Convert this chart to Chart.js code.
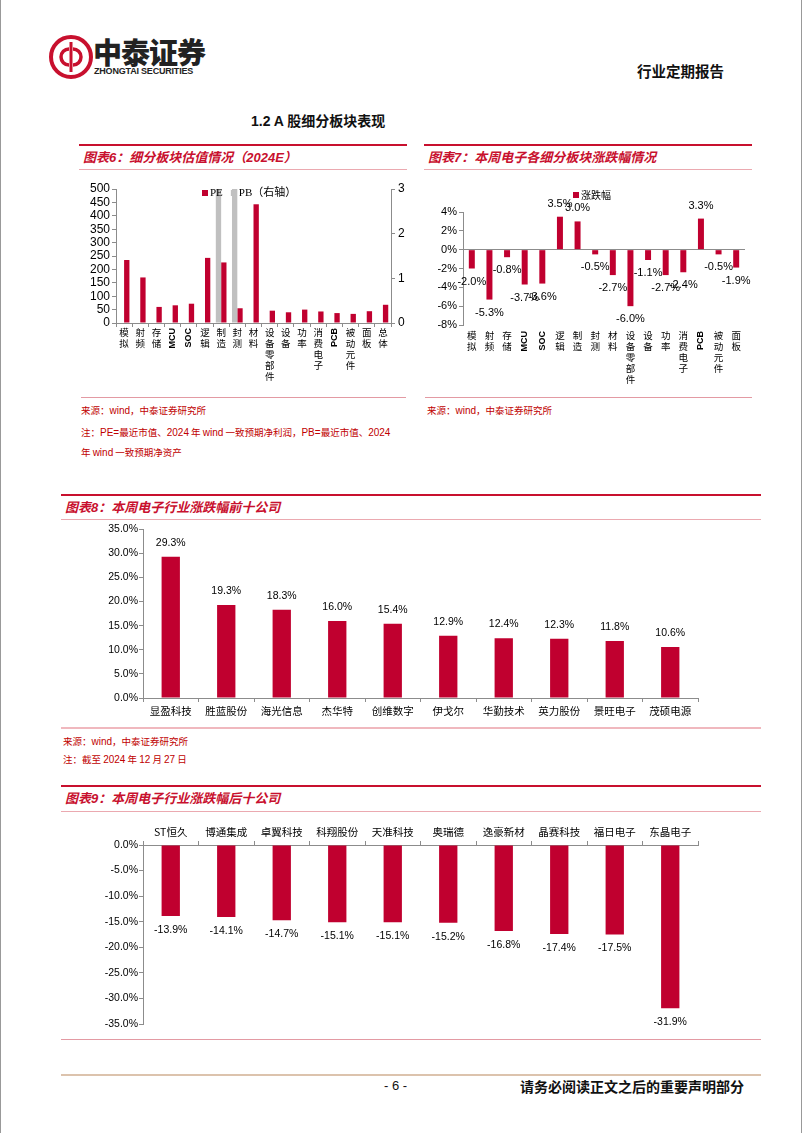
<!DOCTYPE html>
<html>
<head>
<meta charset="utf-8">
<script src="https://cdn.jsdelivr.net/npm/chart.js@4.4.1/dist/chart.umd.min.js"></script>
<style>
  body { margin: 0; background: #fff; }
  #page { position: relative; width: 802px; height: 1133px; overflow: hidden; font-family: 'Noto Sans CJK SC', sans-serif; border-left: 1px solid #999; border-right: 1px solid #999; box-sizing: border-box; }
  .abs { position: absolute; white-space: nowrap; }
  .cv { position: absolute; }
  .ttl { position: absolute; border-top: 2px solid #c8102e; border-bottom: 1px solid #eba9b0; color: #c8102e; font-weight: bold; font-style: italic; font-size: 13px; line-height: 22px; padding-left: 4px; box-sizing: border-box; white-space: nowrap; }
  .src { position: absolute; color: #c00000; font-size: 9.5px; white-space: nowrap; }
  .src b { font-family: 'Liberation Sans', Arial, sans-serif; font-weight: normal; font-size: 10px; }
  .rule { position: absolute; height: 0; border-top: 1px solid #e39aa3; }
</style>
</head>
<body>
<div id="page">
  <!-- 页眉 -->
  <svg class="abs" style="left:47px;top:34px" width="46" height="46" viewBox="0 0 46 46">
    <circle cx="23" cy="23" r="20" fill="none" stroke="#c8102e" stroke-width="4"/>
    <path d="M23 8 V38" stroke="#c8102e" stroke-width="3"/>
    <path d="M21 15 A8 8 0 1 0 21 31" fill="none" stroke="#c8102e" stroke-width="3.5"/>
    <path d="M25 15 A8 8 0 1 1 25 31" fill="none" stroke="#c8102e" stroke-width="3.5"/>
  </svg>
  <div class="abs" style="left:92px;top:30px;font-size:29px;font-weight:900;color:#222;letter-spacing:-1px">中泰证券</div>
  <div class="abs" style="left:93px;top:66px;font-size:9px;font-weight:bold;color:#222;font-family:'Liberation Sans',Arial;letter-spacing:-0.2px">ZHONGTAI SECURITIES</div>
  <div class="abs" style="left:636px;top:60px;font-size:14.5px;font-weight:bold;color:#111">行业定期报告</div>
  <div class="abs" style="left:250px;top:110px;font-size:14px;font-weight:bold;color:#111"><span style="font-family:'Liberation Sans',Arial">1.2 A</span> 股细分板块表现</div>

  <!-- 图表6 / 图表7 -->
  <div class="ttl" style="left:78px;top:144px;width:328px;height:26px">图表<span style="font-family:'Liberation Sans',Arial">6</span>：细分板块估值情况（<span style="font-family:'Liberation Sans',Arial">2024E</span>）</div>
  <div class="ttl" style="left:423px;top:144px;width:328px;height:26px">图表<span style="font-family:'Liberation Sans',Arial">7</span>：本周电子各细分板块涨跌幅情况</div>
  <canvas id="c6" class="cv" style="left:78px;top:178px" width="332" height="215"></canvas>
  <canvas id="c7" class="cv" style="left:425px;top:180px" width="330" height="213"></canvas>
  <div class="rule" style="left:80px;top:397px;width:325px"></div>
  <div class="rule" style="left:424px;top:397px;width:327px"></div>
  <div class="src" style="left:80px;top:403px">来源：<b>wind</b>，中泰证券研究所</div>
  <div class="src" style="left:426px;top:403px">来源：<b>wind</b>，中泰证券研究所</div>
  <div class="src" style="left:80px;top:425px">注：<b>PE=</b>最近市值、<b>2024</b> 年 <b>wind</b> 一致预期净利润，<b>PB=</b>最近市值、<b>2024</b></div>
  <div class="src" style="left:80px;top:445px">年 <b>wind</b> 一致预期净资产</div>

  <!-- 图表8 -->
  <div class="ttl" style="left:60px;top:494px;width:700px;height:26px">图表<span style="font-family:'Liberation Sans',Arial">8</span>：本周电子行业涨跌幅前十公司</div>
  <canvas id="c8" class="cv" style="left:60px;top:522px" width="700" height="205"></canvas>
  <div class="rule" style="left:60px;top:727px;width:700px;border-top:2px solid #f0b8be"></div>
  <div class="src" style="left:62px;top:734px">来源：<b>wind</b>，中泰证券研究所</div>
  <div class="src" style="left:62px;top:752px">注：截至 <b>2024</b> 年 <b>12</b> 月 <b>27</b> 日</div>

  <!-- 图表9 -->
  <div class="ttl" style="left:60px;top:785px;width:700px;height:27px">图表<span style="font-family:'Liberation Sans',Arial">9</span>：本周电子行业涨跌幅后十公司</div>
  <canvas id="c9" class="cv" style="left:60px;top:815px" width="700" height="225"></canvas>
  <div class="rule" style="left:60px;top:1039px;width:700px"></div>

  <!-- 页脚 -->
  <div class="abs" style="left:60px;top:1074px;width:700px;border-top:2px solid #dcc3ad"></div>
  <div class="abs" style="left:383px;top:1078px;font-size:13px;font-family:'Liberation Sans',Arial;color:#111">- 6 -</div>
  <div class="abs" style="left:519px;top:1076px;font-size:14px;font-weight:bold;color:#111">请务必阅读正文之后的重要声明部分</div>
</div>

<script>
// 颜色
const RED = '#c0002f';
const GREY = '#c0c0c0';
const AXIS = '#8c8c8c';

// 图表6：细分板块估值
const sectorNames6 = ['模拟', '射频', '存储', 'MCU', 'SOC', '逻辑', '制造', '封测', '材料', '设备零部件', '设备', '功率', '消费电子', 'PCB', '被动元件', '面板', '总体'];
const peValues = [235, 170, 60, 66, 72, 243, 226, 55, 443, 46, 40, 50, 43, 37, 34, 44, 68];
const pbValues = [null, null, null, null, null, null, 3, 3, null, null, null, null, null, null, null, null, null];
const peTicks = ['0', '50', '100', '150', '200', '250', '300', '350', '400', '450', '500'];
const pbTicks = ['0', '1', '2', '3'];

// 图表7：本周各细分板块涨跌幅
const sectorNames7 = ['模拟', '射频', '存储', 'MCU', 'SOC', '逻辑', '制造', '封测', '材料', '设备零部件', '设备', '功率', '消费电子', 'PCB', '被动元件', '面板'];
const chgValues = [-2.0, -5.3, -0.8, -3.7, -3.6, 3.5, 3.0, -0.5, -2.7, -6.0, -1.1, -2.7, -2.4, 3.3, -0.5, -1.9];
const chgTicks = ['-8%', '-6%', '-4%', '-2%', '0%', '2%', '4%'];

// 图表8：涨幅前十
const topNames = ['显盈科技', '胜蓝股份', '海光信息', '杰华特', '创维数字', '伊戈尔', '华勤技术', '英力股份', '景旺电子', '茂硕电源'];
const topValues = [29.3, 19.3, 18.3, 16.0, 15.4, 12.9, 12.4, 12.3, 11.8, 10.6];
const topTicks = ['0.0%', '5.0%', '10.0%', '15.0%', '20.0%', '25.0%', '30.0%', '35.0%'];

// 图表9：跌幅前十
const bottomNames = ['ST恒久', '博通集成', '卓翼科技', '科翔股份', '天准科技', '奥瑞德', '逸豪新材', '晶赛科技', '福日电子', '东晶电子'];
const bottomValues = [-13.9, -14.1, -14.7, -15.1, -15.1, -15.2, -16.8, -17.4, -17.5, -31.9];
const bottomTicks = ['-35.0%', '-30.0%', '-25.0%', '-20.0%', '-15.0%', '-10.0%', '-5.0%', '0.0%'];

Chart.defaults.font.family = "'Liberation Sans', Arial, 'Noto Sans CJK SC', sans-serif";
Chart.defaults.color = '#000';
Chart.defaults.animation = false;

const NUM_FONT = "'Liberation Sans', Arial, sans-serif";
const CJK_FONT = "'Noto Sans CJK SC', sans-serif";

// 柱顶数值标签
const valueLabelPlugin = {
  id: 'valueLabels',
  afterDatasetsDraw(chart, args, opts) {
    const ctx = chart.ctx;
    const meta = chart.getDatasetMeta(0);
    const data = chart.data.datasets[0].data;
    ctx.save();
    ctx.font = opts.size + 'px ' + NUM_FONT;
    ctx.fillStyle = '#000';
    ctx.textAlign = 'center';
    ctx.textBaseline = 'middle';
    meta.data.forEach((bar, i) => {
      const v = data[i];
      const y = v >= 0 ? bar.y - opts.offset : bar.y + opts.offset;
      ctx.fillText(v.toFixed(1) + '%', bar.x, y);
    });
    ctx.restore();
  }
};

// 竖排分类标签（中文逐字竖排，英文旋转）
const verticalLabelPlugin = {
  id: 'verticalLabels',
  afterDraw(chart, args, opts) {
    const ctx = chart.ctx;
    const xs = chart.scales.x;
    const top = chart.chartArea.bottom + opts.gap;
    ctx.save();
    ctx.fillStyle = '#000';
    chart.data.labels.forEach((label, i) => {
      const x = xs.getPixelForValue(i);
      if (/^[A-Za-z]+$/.test(label)) {
        ctx.save();
        ctx.translate(x, top);
        ctx.rotate(-Math.PI / 2);
        ctx.font = 'bold 9px ' + NUM_FONT;
        ctx.textAlign = 'right';
        ctx.textBaseline = 'middle';
        ctx.fillText(label, 0, 0);
        ctx.restore();
      } else {
        ctx.font = '9.5px ' + CJK_FONT;
        ctx.textAlign = 'center';
        ctx.textBaseline = 'top';
        [...label].forEach((ch, k) => ctx.fillText(ch, x, top + k * opts.lineHeight));
      }
    });
    ctx.restore();
  }
};

// 方块图例
const boxLegendPlugin = {
  id: 'boxLegend',
  afterDraw(chart, args, opts) {
    const ctx = chart.ctx;
    ctx.save();
    ctx.font = opts.font;
    ctx.textBaseline = 'middle';
    ctx.textAlign = 'left';
    let x = opts.x;
    opts.order.forEach(di => {
      const ds = chart.data.datasets[di];
      ctx.fillStyle = ds.backgroundColor;
      ctx.fillRect(x, opts.y - 3, 6, 6);
      ctx.fillStyle = '#000';
      ctx.fillText(ds.label, x + 8, opts.y);
      x += 8 + ctx.measureText(ds.label).width + opts.gap;
    });
    ctx.restore();
  }
};

// 通用坐标轴样式
function axisGrid(extra) {
  return Object.assign({ drawOnChartArea: false, tickLength: 4, color: AXIS, tickColor: AXIS }, extra || {});
}

// 图表6
new Chart(document.getElementById('c6'), {
  type: 'bar',
  data: {
    labels: sectorNames6,
    datasets: [
      { label: 'PB（右轴）', data: pbValues, backgroundColor: GREY, yAxisID: 'y1', barPercentage: 1, categoryPercentage: 0.66 },
      { label: 'PE', data: peValues, backgroundColor: RED, yAxisID: 'y', barPercentage: 1, categoryPercentage: 0.66 }
    ]
  },
  plugins: [verticalLabelPlugin, boxLegendPlugin],
  options: {
    responsive: false,
    layout: { padding: { top: 11, right: 0, bottom: 0, left: 0 } },
    plugins: {
      legend: { display: false },
      tooltip: { enabled: false },
      verticalLabels: { gap: 5, lineHeight: 11 },
      boxLegend: { x: 123, y: 15, gap: 8, order: [1, 0], font: "11px 'Liberation Serif', 'Noto Sans CJK SC', serif" }
    },
    scales: {
      x: {
        grid: axisGrid({ offset: true }),
        border: { color: AXIS },
        ticks: { display: false },
        afterFit: s => { s.height = 70; }
      },
      y: {
        position: 'left', min: 0, max: 500,
        ticks: { stepSize: 50, autoSkip: false, padding: 2, font: { size: 12 }, callback: (v, i) => peTicks[i] },
        grid: axisGrid(),
        border: { color: AXIS },
        afterFit: s => { s.width = 37; }
      },
      y1: {
        position: 'right', min: 0, max: 3,
        ticks: { stepSize: 1, autoSkip: false, padding: 3, font: { size: 12 }, callback: (v, i) => pbTicks[i] },
        grid: axisGrid(),
        border: { color: AXIS },
        afterFit: s => { s.width = 20; }
      }
    }
  }
});

// 图表7
new Chart(document.getElementById('c7'), {
  type: 'bar',
  data: {
    labels: sectorNames7,
    datasets: [{ label: '涨跌幅', data: chgValues, backgroundColor: RED, barPercentage: 0.34, categoryPercentage: 1 }]
  },
  plugins: [valueLabelPlugin, verticalLabelPlugin, boxLegendPlugin],
  options: {
    responsive: false,
    layout: { padding: { top: 32, right: 11, bottom: 0, left: 0 } },
    plugins: {
      legend: { display: false },
      tooltip: { enabled: false },
      valueLabels: { size: 11, offset: 13 },
      verticalLabels: { gap: 6, lineHeight: 11 },
      boxLegend: { x: 147, y: 15, gap: 8, order: [0], font: '10px ' + CJK_FONT }
    },
    scales: {
      x: {
        grid: { display: false },
        border: { display: false },
        ticks: { display: false },
        afterFit: s => { s.height = 68; }
      },
      y: {
        min: -8, max: 4,
        ticks: { stepSize: 2, autoSkip: false, padding: 2, font: { size: 11 }, callback: (v, i) => chgTicks[i] },
        grid: {
          drawOnChartArea: true, tickLength: 4, tickColor: AXIS,
          color: c => (c.tick && c.tick.value === 0) ? AXIS : 'rgba(0,0,0,0)'
        },
        border: { color: AXIS },
        afterFit: s => { s.width = 37; }
      }
    }
  }
});

// 图表8
new Chart(document.getElementById('c8'), {
  type: 'bar',
  data: {
    labels: topNames,
    datasets: [{ label: '涨跌幅', data: topValues, backgroundColor: RED, barPercentage: 0.33, categoryPercentage: 1 }]
  },
  plugins: [valueLabelPlugin],
  options: {
    responsive: false,
    layout: { padding: { top: 7, right: 63, bottom: 0, left: 0 } },
    plugins: {
      legend: { display: false },
      tooltip: { enabled: false },
      valueLabels: { size: 10.5, offset: 14 }
    },
    scales: {
      x: {
        grid: axisGrid({ offset: true }),
        border: { color: AXIS },
        ticks: { padding: 3, autoSkip: false, maxRotation: 0, font: { size: 10.5, family: CJK_FONT } },
        afterFit: s => { s.height = 29; }
      },
      y: {
        min: 0, max: 35,
        ticks: { stepSize: 5, autoSkip: false, padding: 1, font: { size: 10.5 }, callback: (v, i) => topTicks[i] },
        grid: axisGrid(),
        border: { color: AXIS },
        afterFit: s => { s.width = 82; }
      }
    }
  }
});

// 图表9
new Chart(document.getElementById('c9'), {
  type: 'bar',
  data: {
    labels: bottomNames,
    datasets: [{ label: '涨跌幅', data: bottomValues, backgroundColor: RED, barPercentage: 0.33, categoryPercentage: 1 }]
  },
  plugins: [valueLabelPlugin],
  options: {
    responsive: false,
    layout: { padding: { top: 0, right: 63, bottom: 16, left: 0 } },
    plugins: {
      legend: { display: false },
      tooltip: { enabled: false },
      valueLabels: { size: 10.5, offset: 14 }
    },
    scales: {
      x: {
        position: 'top',
        grid: axisGrid({ offset: true }),
        border: { color: AXIS },
        ticks: { padding: 3, autoSkip: false, maxRotation: 0, font: { size: 10.5, family: CJK_FONT } },
        afterFit: s => { s.height = 30; }
      },
      y: {
        min: -35, max: 0,
        ticks: { stepSize: 5, autoSkip: false, padding: 1, font: { size: 10.5 }, callback: (v, i) => bottomTicks[i] },
        grid: axisGrid(),
        border: { color: AXIS },
        afterFit: s => { s.width = 82; }
      }
    }
  }
});
</script>
</body>
</html>
